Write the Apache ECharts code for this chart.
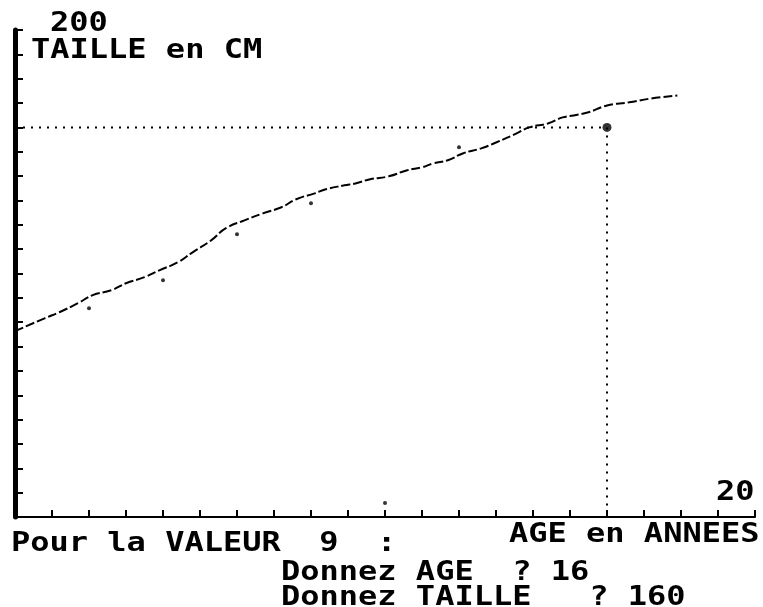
<!DOCTYPE html>
<html>
<head>
<meta charset="utf-8">
<script src="https://cdn.jsdelivr.net/npm/echarts@6/dist/echarts.min.js"></script>
<style>
  html, body { margin: 0; padding: 0; background: #fff; }
  #main { width: 763px; height: 607px; }
</style>
</head>
<body>
<div id="main"></div>
<script>
var curveAge = [0, 0.8, 1.2, 1.7, 2.1, 2.6, 3.0, 3.5, 3.9, 4.4, 4.8, 5.3, 5.7, 6.2, 6.7, 7.2, 7.6, 8.1, 8.4, 8.9, 9.2, 9.6, 10.1, 10.6, 11.0, 11.3, 11.7, 12.1, 12.6, 13.0, 13.5, 13.9, 14.4, 14.8, 15.1, 15.5, 16.0, 16.6, 17.2, 17.9];
var curveTaille = [76.3, 81.6, 84.1, 87.8, 91.1, 93.1, 96.0, 98.5, 101.3, 104.6, 108.7, 113.6, 118.6, 121.8, 124.7, 127.2, 130.5, 132.9, 134.6, 136.2, 137.0, 138.7, 139.9, 142.4, 143.6, 145.2, 146.5, 149.3, 151.4, 153.8, 157.1, 160.0, 161.6, 164.1, 164.9, 166.2, 169.0, 170.3, 171.9, 173.1];

// valeurs deja saisies
var saisieAge = [2, 4, 6, 8, 10, 12];
var saisieTaille = [85.7, 97.2, 116.1, 128.8, 5.7, 151.8];

// valeur 9 en cours
var valeurAge = 16;
var valeurTaille = 160;

var ageMax = 20;
var tailleMax = 200;

var font = 'bold 32px "DejaVu Sans Mono", monospace';

function pairs(xs, ys) {
  var out = [];
  for (var i = 0; i < xs.length; i++) out.push([xs[i], ys[i]]);
  return out;
}

// texte facon ecran : un peu ecrase en hauteur
function texte(str, left, top) {
  return {
    type: 'text', left: left, top: top, scaleY: 0.82,
    style: { text: str, font: font, fill: '#000' }
  };
}

var myChart = echarts.init(document.getElementById('main'));

var option = {
  animation: false,
  backgroundColor: '#fff',
  grid: { left: 15, right: 8, top: 30, bottom: 90 },
  xAxis: {
    type: 'value',
    min: 0,
    max: ageMax,
    interval: 1,
    axisLine: { lineStyle: { color: '#000', width: 2 } },
    axisTick: { inside: true, length: 7, lineStyle: { color: '#000', width: 2 } },
    axisLabel: { show: false },
    splitLine: { show: false }
  },
  yAxis: {
    type: 'value',
    min: 0,
    max: tailleMax,
    interval: 10,
    axisLine: { onZero: false, lineStyle: { color: '#000', width: 5 } },
    axisTick: { inside: true, length: 8, lineStyle: { color: '#000', width: 2 } },
    minorTick: { show: true, splitNumber: 3, length: 3, lineStyle: { color: '#000', width: 2 } },
    axisLabel: { show: false },
    splitLine: { show: false }
  },
  series: [
    {
      type: 'line',
      data: pairs(curveAge, curveTaille),
      smooth: true,
      symbol: 'none',
      lineStyle: { color: '#000', width: 2, type: [9, 3] }
    },
    {
      type: 'line',
      data: [[0, valeurTaille], [valeurAge, valeurTaille], [valeurAge, 0]],
      symbol: 'none',
      lineStyle: { color: '#000', width: 2, type: [2, 6] }
    },
    {
      type: 'scatter',
      data: pairs(saisieAge, saisieTaille),
      symbolSize: 4,
      itemStyle: { color: '#000' }
    },
    {
      type: 'scatter',
      data: [[valeurAge, valeurTaille]],
      symbolSize: 9,
      itemStyle: { color: '#000' }
    }
  ],
  graphic: [
    texte('200', 50, 11),
    texte('TAILLE en CM', 31, 38),
    texte('20', 716, 480),
    texte('AGE en ANNEES', 509, 522),
    texte('Pour la VALEUR  9  :', 11, 531),
    texte('Donnez AGE  ? 16', 281, 560),
    texte('Donnez TAILLE   ? 160', 281, 585)
  ]
};

myChart.setOption(option);
</script>
</body>
</html>
